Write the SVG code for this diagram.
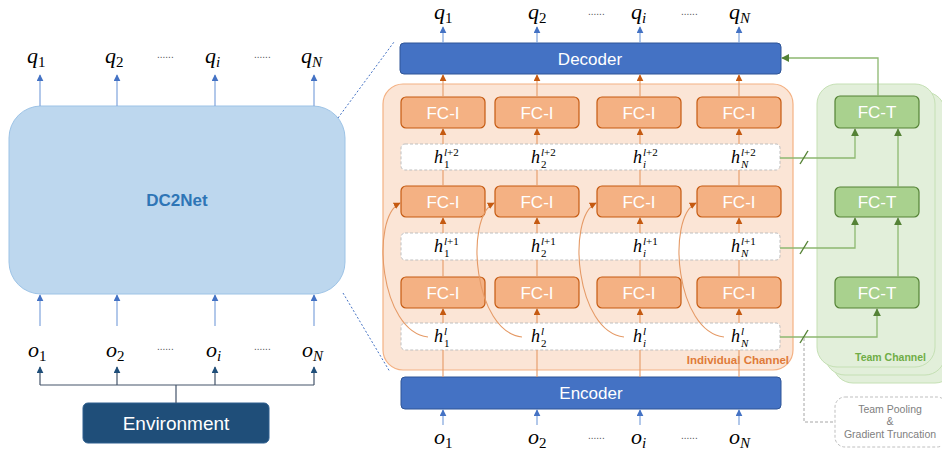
<svg xmlns="http://www.w3.org/2000/svg" width="942" height="452" viewBox="0 0 942 452">
  <style>
    .m { font-family: "Liberation Serif", "DejaVu Serif", serif; font-style: italic; font-size: 22px; fill: #000; }
    .m tspan { font-size: 15px; }
    .mh { font-family: "Liberation Serif", "DejaVu Serif", serif; font-style: italic; font-size: 18px; fill: #000; }
    .sc { font-family: "Liberation Serif", "DejaVu Serif", serif; font-size: 11px; fill: #000; }
    .up { font-style: normal; }
    .dots { font-family: "Liberation Sans", Arial, sans-serif; font-size: 10px; fill: #555; }
    .lbl { font-family: "Liberation Sans", Arial, sans-serif; font-size: 17px; fill: #fff; text-anchor: middle; }
    .fci rect { fill: #F4B183; stroke: #C55A11; stroke-width: 1.2; }
    .fct rect { fill: #A9D18E; stroke: #548235; stroke-width: 1.2; }
    .hrow { fill: #fff; stroke: #BFBFBF; stroke-width: 1; stroke-dasharray: 3 2; }
    .blue { stroke: #7FA3DC; stroke-width: 1.2; fill: none; }
    .navy { stroke: #44546A; stroke-width: 1.2; fill: none; }
    .org { stroke: #E59A66; stroke-width: 1.1; fill: none; }
    .grn { stroke: #8DB870; stroke-width: 1.3; fill: none; }
  </style>
  <defs>
    <marker id="ab" viewBox="0 0 10 10" refX="9" refY="5" markerWidth="7" markerHeight="7" orient="auto-start-reverse" markerUnits="userSpaceOnUse">
      <path d="M0,0 L10,5 L0,10 z" fill="#4472C4"/>
    </marker>
    <marker id="an" viewBox="0 0 10 10" refX="9" refY="5" markerWidth="7" markerHeight="7" orient="auto-start-reverse" markerUnits="userSpaceOnUse">
      <path d="M0,0 L10,5 L0,10 z" fill="#1F4E79"/>
    </marker>
    <marker id="ao" viewBox="0 0 10 10" refX="9" refY="5" markerWidth="7" markerHeight="7" orient="auto-start-reverse" markerUnits="userSpaceOnUse">
      <path d="M0,0 L10,5 L0,10 z" fill="#C55A11"/>
    </marker>
    <marker id="ag" viewBox="0 0 10 10" refX="9" refY="5" markerWidth="8" markerHeight="8" orient="auto-start-reverse" markerUnits="userSpaceOnUse">
      <path d="M0,0 L10,5 L0,10 z" fill="#548235"/>
    </marker>
  </defs>

  <!-- ===== Left: compact view ===== -->
  <g id="left-outputs">
    <text class="m" x="27" y="63">q<tspan class="up" dy="4">1</tspan></text>
    <text class="m" x="105" y="63">q<tspan class="up" dy="4">2</tspan></text>
    <text class="dots" x="157" y="58">......</text>
    <text class="m" x="205" y="63">q<tspan dy="4">i</tspan></text>
    <text class="dots" x="254" y="58">......</text>
    <text class="m" x="301" y="63">q<tspan dy="4">N</tspan></text>
  </g>

  <g id="dc2net">
    <rect x="9" y="106" width="336" height="188" rx="32" fill="#BDD7EE" stroke="#9DC3E6" stroke-width="1"/>
    <text x="177" y="206" font-family="Liberation Sans, Arial, sans-serif" font-size="17" font-weight="bold" fill="#2E75B6" text-anchor="middle">DC2Net</text>
  </g>

  <g id="left-inputs">
    <text class="m" x="28" y="357">o<tspan class="up" dy="4">1</tspan></text>
    <text class="m" x="106" y="357">o<tspan class="up" dy="4">2</tspan></text>
    <text class="dots" x="157" y="350">......</text>
    <text class="m" x="206" y="357">o<tspan dy="4">i</tspan></text>
    <text class="dots" x="254" y="350">......</text>
    <text class="m" x="302" y="357">o<tspan dy="4">N</tspan></text>
  </g>

  <g id="environment">
    <rect x="83" y="403" width="186" height="40" rx="5" fill="#1F4E79" stroke="#2E5F8F" stroke-width="1"/>
    <text x="176" y="430" font-family="Liberation Sans, Arial, sans-serif" font-size="19" fill="#fff" text-anchor="middle">Environment</text>
  </g>

  <!-- ===== Right: expanded view ===== -->
  <g id="individual-channel">
    <rect x="383" y="84" width="410" height="286" rx="20" fill="#FBE5D6" stroke="#F4B183" stroke-width="1.2"/>
    <text x="789" y="364" font-family="Liberation Sans, Arial, sans-serif" font-size="11.5" font-weight="bold" fill="#E07B39" text-anchor="end">Individual Channel</text>
  </g>

  <g id="team-channel">
    <rect x="833" y="100" width="122" height="283" rx="20" fill="#E2EFDA" stroke="#C5E0B4" stroke-width="1"/>
    <rect x="825" y="92" width="120" height="283" rx="20" fill="#E2EFDA" stroke="#C5E0B4" stroke-width="1"/>
    <rect x="817" y="84" width="118" height="283" rx="20" fill="#E2EFDA" stroke="#C5E0B4" stroke-width="1"/>
    <text x="926" y="361" font-family="Liberation Sans, Arial, sans-serif" font-size="10.5" font-weight="bold" fill="#70AD47" text-anchor="end">Team Channel</text>
  </g>

  <g id="right-outputs">
    <text class="m" x="434" y="19">q<tspan class="up" dy="4">1</tspan></text>
    <text class="m" x="528" y="19">q<tspan class="up" dy="4">2</tspan></text>
    <text class="dots" x="588" y="15">......</text>
    <text class="m" x="631" y="19">q<tspan dy="4">i</tspan></text>
    <text class="dots" x="681" y="15">......</text>
    <text class="m" x="729" y="19">q<tspan dy="4">N</tspan></text>
  </g>

  <g id="decoder">
    <rect x="400" y="43" width="381" height="31" rx="4" fill="#4472C4" stroke="#2F5597" stroke-width="1"/>
    <text class="lbl" x="590" y="65">Decoder</text>
  </g>

  <g id="encoder">
    <rect x="401" y="377" width="380" height="32" rx="4" fill="#4472C4" stroke="#2F5597" stroke-width="1"/>
    <text class="lbl" x="591" y="399">Encoder</text>
  </g>

  <g id="right-inputs">
    <text class="m" x="434" y="444">o<tspan class="up" dy="4">1</tspan></text>
    <text class="m" x="528" y="444">o<tspan class="up" dy="4">2</tspan></text>
    <text class="dots" x="588" y="439">......</text>
    <text class="m" x="631" y="444">o<tspan dy="4">i</tspan></text>
    <text class="dots" x="681" y="439">......</text>
    <text class="m" x="729" y="444">o<tspan dy="4">N</tspan></text>
  </g>

  <!-- hidden-state rows -->
  <g id="h-l2">
    <rect class="hrow" x="401" y="144" width="379" height="26" rx="4"/>
    <text class="mh" x="434" y="163">h</text><text class="sc" x="444" y="156"><tspan font-style="italic">l</tspan>+2</text><text class="sc" x="444" y="168">1</text>
    <text class="mh" x="531" y="163">h</text><text class="sc" x="541" y="156"><tspan font-style="italic">l</tspan>+2</text><text class="sc" x="541" y="168">2</text>
    <text class="mh" x="633" y="163">h</text><text class="sc" x="643" y="156"><tspan font-style="italic">l</tspan>+2</text><text class="sc" x="643" y="168" font-style="italic">i</text>
    <text class="mh" x="731" y="163">h</text><text class="sc" x="741" y="156"><tspan font-style="italic">l</tspan>+2</text><text class="sc" x="741" y="168" font-style="italic">N</text>
  </g>
  <g id="h-l1">
    <rect class="hrow" x="401" y="233" width="379" height="27" rx="4"/>
    <text class="mh" x="434" y="252">h</text><text class="sc" x="444" y="245"><tspan font-style="italic">l</tspan>+1</text><text class="sc" x="444" y="257">1</text>
    <text class="mh" x="531" y="252">h</text><text class="sc" x="541" y="245"><tspan font-style="italic">l</tspan>+1</text><text class="sc" x="541" y="257">2</text>
    <text class="mh" x="633" y="252">h</text><text class="sc" x="643" y="245"><tspan font-style="italic">l</tspan>+1</text><text class="sc" x="643" y="257" font-style="italic">i</text>
    <text class="mh" x="731" y="252">h</text><text class="sc" x="741" y="245"><tspan font-style="italic">l</tspan>+1</text><text class="sc" x="741" y="257" font-style="italic">N</text>
  </g>
  <g id="h-l0">
    <rect class="hrow" x="401" y="323" width="379" height="27" rx="4"/>
    <text class="mh" x="434" y="342">h</text><text class="sc" x="444" y="335" font-style="italic">l</text><text class="sc" x="444" y="347">1</text>
    <text class="mh" x="531" y="342">h</text><text class="sc" x="541" y="335" font-style="italic">l</text><text class="sc" x="541" y="347">2</text>
    <text class="mh" x="633" y="342">h</text><text class="sc" x="643" y="335" font-style="italic">l</text><text class="sc" x="643" y="347" font-style="italic">i</text>
    <text class="mh" x="731" y="342">h</text><text class="sc" x="741" y="335" font-style="italic">l</text><text class="sc" x="741" y="347" font-style="italic">N</text>
  </g>

  <!-- FC-I layers -->
  <g id="fci-row1" class="fci">
    <rect x="401" y="97" width="84" height="31" rx="5"/><text class="lbl" x="443" y="119">FC-I</text>
    <rect x="495" y="97" width="84" height="31" rx="5"/><text class="lbl" x="537" y="119">FC-I</text>
    <rect x="597" y="97" width="84" height="31" rx="5"/><text class="lbl" x="639" y="119">FC-I</text>
    <rect x="697" y="97" width="84" height="31" rx="5"/><text class="lbl" x="739" y="119">FC-I</text>
  </g>
  <g id="fci-row2" class="fci">
    <rect x="401" y="186" width="84" height="31" rx="5"/><text class="lbl" x="443" y="208">FC-I</text>
    <rect x="495" y="186" width="84" height="31" rx="5"/><text class="lbl" x="537" y="208">FC-I</text>
    <rect x="597" y="186" width="84" height="31" rx="5"/><text class="lbl" x="639" y="208">FC-I</text>
    <rect x="697" y="186" width="84" height="31" rx="5"/><text class="lbl" x="739" y="208">FC-I</text>
  </g>
  <g id="fci-row3" class="fci">
    <rect x="401" y="277" width="84" height="31" rx="5"/><text class="lbl" x="443" y="299">FC-I</text>
    <rect x="495" y="277" width="84" height="31" rx="5"/><text class="lbl" x="537" y="299">FC-I</text>
    <rect x="597" y="277" width="84" height="31" rx="5"/><text class="lbl" x="639" y="299">FC-I</text>
    <rect x="697" y="277" width="84" height="31" rx="5"/><text class="lbl" x="739" y="299">FC-I</text>
  </g>

  <!-- FC-T layers -->
  <g id="fct-1" class="fct"><rect x="835" y="96" width="84" height="32" rx="5"/><text class="lbl" x="877" y="118">FC-T</text></g>
  <g id="fct-2" class="fct"><rect x="835" y="187" width="84" height="30" rx="5"/><text class="lbl" x="877" y="208">FC-T</text></g>
  <g id="fct-3" class="fct"><rect x="835" y="277" width="84" height="31" rx="5"/><text class="lbl" x="877" y="299">FC-T</text></g>

  <g id="team-pooling">
    <rect x="835" y="397" width="112" height="50" rx="10" fill="#fff" stroke="#BFBFBF" stroke-width="1" stroke-dasharray="3 2"/>
    <g font-family="Liberation Sans, Arial, sans-serif" font-size="10.5" fill="#808080" text-anchor="middle">
      <text x="890" y="413">Team Pooling</text>
      <text x="890" y="425">&amp;</text>
      <text x="890" y="438">Gradient Truncation</text>
    </g>
  </g>

  <!-- ===== Connectors ===== -->
  <g id="connectors">
    <!-- left view -->
    <g class="blue" marker-end="url(#ab)">
      <path d="M40,106 V75"/><path d="M117,106 V75"/><path d="M215,106 V75"/><path d="M314,106 V75"/>
      <path d="M40,326 V295"/><path d="M117,326 V295"/><path d="M215,326 V295"/><path d="M314,326 V295"/>
    </g>
    <path class="navy" d="M40,385 H314 M176,385 V403"/>
    <g class="navy" marker-end="url(#an)">
      <path d="M40,385 V367"/><path d="M117,385 V367"/><path d="M215,385 V367"/><path d="M314,385 V367"/>
    </g>

    <!-- zoom guides -->
    <path d="M338,118 L394,42" stroke="#4472C4" stroke-width="1" stroke-dasharray="2 2" fill="none"/>
    <path d="M343,293 L390,372" stroke="#4472C4" stroke-width="1" stroke-dasharray="2 2" fill="none"/>

    <!-- right view: decoder outputs and encoder inputs -->
    <g class="blue" marker-end="url(#ab)">
      <path d="M443,43 V27"/><path d="M537,43 V27"/><path d="M640,43 V27"/><path d="M739,43 V27"/>
      <path d="M443,425 V410"/><path d="M537,425 V410"/><path d="M640,425 V410"/><path d="M739,425 V410"/>
    </g>

    <!-- individual channel vertical flow -->
    <g class="org">
      <path d="M443,377 V350"/><path d="M537,377 V350"/><path d="M640,377 V350"/><path d="M739,377 V350"/>
      <path d="M443,277 V260"/><path d="M537,277 V260"/><path d="M640,277 V260"/><path d="M739,277 V260"/>
      <path d="M443,186 V170"/><path d="M537,186 V170"/><path d="M640,186 V170"/><path d="M739,186 V170"/>
    </g>
    <g class="org" marker-end="url(#ao)">
      <path d="M443,97 V75"/><path d="M537,97 V75"/><path d="M640,97 V75"/><path d="M739,97 V75"/>
      <path d="M443,144 V129"/><path d="M537,144 V129"/><path d="M640,144 V129"/><path d="M739,144 V129"/>
      <path d="M443,233 V218"/><path d="M537,233 V218"/><path d="M640,233 V218"/><path d="M739,233 V218"/>
      <path d="M443,323 V309"/><path d="M537,323 V309"/><path d="M640,323 V309"/><path d="M739,323 V309"/>
    </g>

    <!-- skip connections h^l to second FC-I layer -->
    <g class="org" marker-end="url(#ao)">
      <path d="M428,337 C380,332 370,218 400,203"/>
      <path d="M522,337 C474,332 464,218 494,203"/>
      <path d="M624,337 C576,332 566,218 596,203"/>
      <path d="M724,337 C676,332 666,218 696,203"/>
    </g>

    <!-- team channel -->
    <g class="grn" marker-end="url(#ag)">
      <path d="M780,158 H855 V129"/>
      <path d="M780,248 H855 V218"/>
      <path d="M780,337 H877 V309"/>
      <path d="M898,277 V218"/>
      <path d="M898,187 V129"/>
      <path d="M878,96 V58 H782"/>
    </g>
    <g stroke="#548235" stroke-width="1.4">
      <path d="M800,164 L808,151"/>
      <path d="M800,254 L808,241"/>
      <path d="M800,343 L808,330"/>
    </g>
    <path d="M804,338 V422 H835" stroke="#A6A6A6" stroke-width="1" stroke-dasharray="3 2" fill="none"/>
  </g>
</svg>
